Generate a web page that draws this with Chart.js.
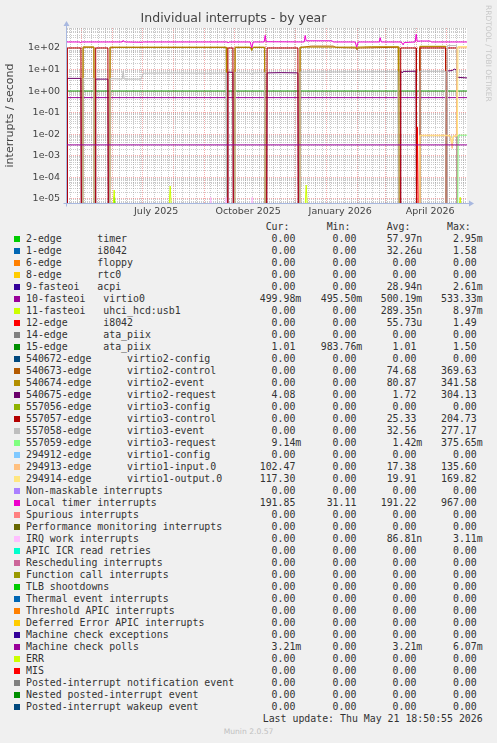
<!DOCTYPE html>
<html>
<head>
<meta charset="utf-8">
<title>Individual interrupts - by year</title>
<script src="https://cdn.jsdelivr.net/npm/chart.js@4.4.0/dist/chart.umd.min.js"></script>
<style>
  body { margin: 0; background: #f0f0f0; width: 497px; height: 743px; overflow: hidden; position: relative; font-family: 'DejaVu Sans', sans-serif; }
  #wrap { position: absolute; left: 0; top: 0; width: 497px; height: 220px; }
  #brand { position: absolute; left: 484px; top: 5px; writing-mode: vertical-rl; font-size: 7.5px; line-height: 8px; color: #c8c8c8; white-space: nowrap; }
  .row { position: absolute; left: 0; width: 497px; height: 12px; line-height: 12px; font-family: 'DejaVu Sans Mono', monospace; font-size: 9.9px; color: #333; white-space: pre; }
  .sw { position: absolute; left: 14px; top: 3px; width: 6px; height: 6px; }
  .lbl { position: absolute; left: 26px; top: 0; }
  .num { position: absolute; top: 0; }
  #munin { position: absolute; left: 0; width: 497px; top: 727px; text-align: center; font-size: 7.6px; color: #c0c0c0; }
</style>
</head>
<body>
<div id="wrap"><canvas id="chart" width="497" height="220"></canvas></div>
<div id="brand">RRDTOOL / TOBI OETIKER</div>
<div id="legend"></div>
<div id="munin">Munin 2.0.57</div>
<script>
// x = days relative to 2026-01-01, the graph covers 400 days up to 2026-05-21 18:50
const X_MIN = -259.2;
const X_MAX = 140.8;
const Y_MIN = 6.5e-6;
const Y_MAX = 845;
const FLOOR = Y_MIN / 2;   // zero values sit below the log axis

const monthStarts = [-245, -214, -184, -153, -122, -92, -61, -31, 0, 31, 59, 90, 120];
const weekLines = [-256, -249, -242, -235, -228, -221, -207, -200, -193, -186, -179, -172, -165, -158, -151,
  -144, -137, -130, -116, -109, -102, -95, -88, -81, -74, -67, -60, -53, -46, -39, -32, -25, -18, -11, -4,
  4, 11, 18, 25, 32, 39, 46, 53, 60, 67, 74, 81, 88, 95, 102, 109, 116, 123, 130, 137];
const xLabelDays = [-170, -78, 14, 104];
const xLabelTexts = ['July 2025', 'October 2025', 'January 2026', 'April 2026'];

const yDecades = [1e-5, 1e-4, 1e-3, 1e-2, 1e-1, 1, 10, 100];
const yDecadeLabels = ['1e-05', '1e-04', '1e-03', '1e-02', '1e-01', '1e+00', '1e+01', '1e+02'];

// series: [day, value]
const timer2 = [[-232.2, 0], [-231.2, 1.4e-5], [-230.2, 0], [-213, 0], [-212, 1.2e-5], [-211, 0]];
const uhci11 = [[-213.2, 0], [-212, 2.6e-5], [-210.8, 0], [-157.2, 0], [-156, 4e-5], [-154.8, 0],
  [-21.2, 0], [-20, 4.4e-5], [-18.8, 0], [132.8, 0], [134, 1.2e-5], [135.2, 0]];
const virtio0 = [[-259.2, 0.5], [140.8, 0.5]];
const i8042_12 = [[90.4, 0], [91.2, 0.022], [92, 0]];
const ataPiix15 = [[-259.2, 1.01], [140.8, 1.01]];
const virtio2Control = [
  [-243.5, 0], [-243.1, 108], [-232.3, 108], [-231.9, 0],
  [-216.5, 0], [-216.1, 105], [-99.9, 105], [-99.5, 0],
  [-91.5, 0], [-91.1, 105], [-75, 105], [-74.5, 85], [-73, 105], [-61.6, 105], [-61.2, 0],
  [-26.5, 0], [-26.1, 105], [-15, 122], [7, 122], [10, 105], [30, 100], [30.8, 82], [32, 100], [72.1, 108], [72.5, 0],
  [93.3, 0], [93.7, 115], [119.4, 115], [119.8, 0]];
const virtio2Event = [
  [-243.5, 0], [-243.1, 112], [-232.3, 112], [-231.9, 0],
  [-216.5, 0], [-216.1, 110], [-99.9, 110], [-99.5, 0],
  [-91.5, 0], [-91.1, 110], [-76, 110], [-74.5, 75], [-73, 110], [-61.6, 110], [-61.2, 0],
  [-26.5, 0], [-26.1, 110], [30, 110], [30.8, 95], [32, 110], [45, 115], [72.1, 115], [72.5, 0],
  [93.3, 0], [93.7, 120], [119.4, 120], [119.8, 0]];
const virtio2Request = [
  [-259.2, 0], [-258.8, 3.9], [-245.3, 3.9], [-244.9, 0],
  [-230.9, 0], [-230.5, 3.6], [-218.3, 3.6], [-217.9, 0],
  [-98.7, 0], [-98.3, 7.6], [-93.3, 7.4], [-92.9, 0],
  [-59.5, 0], [-59.1, 7.0], [-45, 7.2], [-28.3, 7.0], [-27.9, 0],
  [74.1, 0], [74.5, 8.4], [76, 7.0], [77, 8.2], [89.9, 8.4], [90.3, 0],
  [120.8, 0], [121.2, 8.6], [126, 9.0], [128, 10.5], [130.2, 9.8], [130.8, 4.4], [140.8, 4.1]];
const virtio3Control = [
  [-259.2, 0], [-258.8, 100], [-245.3, 100], [-244.9, 0],
  [-230.9, 0], [-230.5, 100], [-218.3, 100], [-217.9, 0],
  [-98.7, 0], [-98.3, 100], [-93.3, 100], [-92.9, 0],
  [-59.5, 0], [-59.1, 100], [-28.3, 100], [-27.9, 0],
  [74.1, 0], [74.5, 100], [89.9, 100], [90.3, 0],
  [93.3, 0], [93.7, 100], [119.4, 100], [119.8, 0],
  [120.8, 0], [121.2, 100], [130.4, 100], [130.8, 0]];
const virtio3Event = [
  [-243.5, 0], [-243.1, 3.8], [-232.3, 3.8], [-231.9, 0],
  [-216.5, 0], [-216.1, 3.8], [-204, 3.6], [-203, 8.5], [-202, 3.6], [-185, 3.6], [-183, 6.8],
  [-150, 7.0], [-120, 6.8], [-100.1, 7.0], [-99.7, 0],
  [-91.5, 0], [-91.1, 7.2], [-76, 7.0], [-74.5, 5.6], [-73, 7.0], [-61.6, 7.2], [-61.2, 0],
  [-26.5, 0], [-26.1, 7.6], [20, 7.8], [71.7, 8.0], [72.1, 0],
  [93.3, 0], [93.7, 8.3], [119.4, 8.3], [119.8, 0],
  [120.8, 0], [121.2, 130], [130.4, 130], [130.8, 0]];
const virtio3Request = [[131.5, 0], [132, 9.1e-3], [140.8, 9.1e-3]];
const virtio1Input = [[93.3, 0], [93.7, 8.5e-3], [121, 8.5e-3], [124, 8e-3], [126, 2.2e-3], [127, 8e-3],
  [130.2, 8e-3], [130.8, 102], [140.8, 102]];
const virtio1Output = [[93.3, 0], [93.7, 9e-3], [121, 9e-3], [124, 8.5e-3], [126, 4e-3], [127, 8.5e-3],
  [131.2, 8.5e-3], [131.8, 117], [140.8, 117]];
const localTimer = [[-259.2, 190], [-247, 190], [-246, 175], [-245, 190], [-204, 190], [-203, 225], [-202, 195],
  [-200, 190], [-184, 185], [-183, 190], [-99, 190], [-98, 170], [-97, 190], [-76, 190], [-74.5, 100],
  [-73, 190], [-62, 190], [-61, 385], [-60, 195], [-22, 190], [-21, 380], [-20, 215], [6, 215], [7, 190],
  [29, 190], [30.5, 110], [32, 190], [53, 190], [54, 300], [55, 190], [75, 190], [77, 140], [78, 180],
  [89, 190], [90, 430], [91, 205], [94, 210], [104, 210], [105, 190], [140.8, 190]];
const irqWork = [[-116.5, 0], [-115.5, 1.2e-5], [-114.5, 0], [-101.2, 0], [-100.2, 1.2e-5], [-99.2, 0],
  [-75, 0], [-74, 1.2e-5], [-73, 0]];
const mcPolls = [[-259.2, 3.21e-3], [140.8, 3.21e-3]];

// legend rows (munin colour order)
const legendNames = [
  '2-edge      timer', '1-edge      i8042', '6-edge      floppy', '8-edge      rtc0', '9-fasteoi   acpi',
  '10-fasteoi   virtio0', '11-fasteoi   uhci_hcd:usb1', '12-edge      i8042', '14-edge      ata_piix',
  '15-edge      ata_piix', '540672-edge      virtio2-config', '540673-edge      virtio2-control',
  '540674-edge      virtio2-event', '540675-edge      virtio2-request', '557056-edge      virtio3-config',
  '557057-edge      virtio3-control', '557058-edge      virtio3-event', '557059-edge      virtio3-request',
  '294912-edge      virtio1-config', '294913-edge      virtio1-input.0', '294914-edge      virtio1-output.0',
  'Non-maskable interrupts', 'Local timer interrupts', 'Spurious interrupts', 'Performance monitoring interrupts',
  'IRQ work interrupts', 'APIC ICR read retries', 'Rescheduling interrupts', 'Function call interrupts',
  'TLB shootdowns', 'Thermal event interrupts', 'Threshold APIC interrupts', 'Deferred Error APIC interrupts',
  'Machine check exceptions', 'Machine check polls', 'ERR', 'MIS', 'Posted-interrupt notification event',
  'Nested posted-interrupt event', 'Posted-interrupt wakeup event'];
const legendColors = ['#00CC00', '#0066B3', '#FF8000', '#FFCC00', '#330099', '#990099', '#CCFF00', '#FF0000',
  '#808080', '#008F00', '#00487D', '#B35A00', '#B38F00', '#6B006B', '#8FB300', '#B30000', '#BEBEBE', '#80FF80',
  '#80C9FF', '#FFC080', '#FFE680', '#AA80FF', '#EE00CC', '#FF8080', '#666600', '#FFBFFF', '#00FFCC', '#CC6699',
  '#999900', '#00CC00', '#0066B3', '#FF8000', '#FFCC00', '#330099', '#990099', '#CCFF00', '#FF0000', '#808080',
  '#008F00', '#00487D'];
const curVals = ['0.00', '0.00', '0.00', '0.00', '0.00', '499.98m', '0.00', '0.00', '0.00', '1.01', '0.00', '0.00',
  '0.00', '4.08', '0.00', '0.00', '0.00', '9.14m', '0.00', '102.47', '117.30', '0.00', '191.85', '0.00', '0.00',
  '0.00', '0.00', '0.00', '0.00', '0.00', '0.00', '0.00', '0.00', '0.00', '3.21m', '0.00', '0.00', '0.00', '0.00', '0.00'];
const minVals = ['0.00', '0.00', '0.00', '0.00', '0.00', '495.50m', '0.00', '0.00', '0.00', '983.76m', '0.00', '0.00',
  '0.00', '0.00', '0.00', '0.00', '0.00', '0.00', '0.00', '0.00', '0.00', '0.00', '31.11', '0.00', '0.00',
  '0.00', '0.00', '0.00', '0.00', '0.00', '0.00', '0.00', '0.00', '0.00', '0.00', '0.00', '0.00', '0.00', '0.00', '0.00'];
const avgVals = ['57.97n', '32.26u', '0.00', '0.00', '28.94n', '500.19m', '289.35n', '55.73u', '0.00', '1.01', '0.00',
  '74.68', '80.87', '1.72', '0.00', '25.33', '32.56', '1.42m', '0.00', '17.38', '19.91', '0.00', '191.22', '0.00',
  '0.00', '86.81n', '0.00', '0.00', '0.00', '0.00', '0.00', '0.00', '0.00', '0.00', '3.21m', '0.00', '0.00', '0.00', '0.00', '0.00'];
const maxVals = ['2.95m', '1.58', '0.00', '0.00', '2.61m', '533.33m', '8.97m', '1.49', '0.00', '1.50', '0.00',
  '369.63', '341.58', '304.13', '0.00', '204.73', '277.17', '375.65m', '0.00', '135.60', '169.82', '0.00', '967.00',
  '0.00', '0.00', '3.11m', '0.00', '0.00', '0.00', '0.00', '0.00', '0.00', '0.00', '0.00', '6.07m', '0.00', '0.00',
  '0.00', '0.00', '0.00'];

// which legend row each drawn series belongs to
const plotted = [
  [0, timer2], [6, uhci11], [5, virtio0], [7, i8042_12], [9, ataPiix15], [11, virtio2Control], [12, virtio2Event],
  [13, virtio2Request], [15, virtio3Control], [16, virtio3Event], [17, virtio3Request], [19, virtio1Input],
  [20, virtio1Output], [22, localTimer], [25, irqWork], [34, mcPolls]];

const datasets = plotted.map(([idx, pts]) => ({
  label: legendNames[idx],
  data: pts.map(([d, v]) => ({ x: d, y: v === 0 ? FLOOR : v })),
  borderColor: legendColors[idx],
  borderWidth: 1,
  pointRadius: 0,
  tension: 0,
  fill: false,
  clip: 0,
  order: -idx
}));

const xTickKinds = new Map();
weekLines.forEach(d => xTickKinds.set(d, 'minor'));
monthStarts.forEach(d => xTickKinds.set(d, 'major'));
xLabelDays.forEach(d => xTickKinds.set(d, 'label'));
const xTickValues = [...xTickKinds.keys()].filter(d => d > X_MIN && d < X_MAX).sort((a, b) => a - b);

const yTickValues = [];
yDecades.forEach(dec => {
  for (let m = 1; m <= 9; m++) {
    const v = dec * m;
    if (v >= Y_MIN && v <= Y_MAX) yTickValues.push(v);
  }
});
[2, 3, 4, 5, 6, 7, 8, 9].forEach(m => { if (1e-6 * m >= Y_MIN) yTickValues.unshift(1e-6 * m); });
yTickValues.sort((a, b) => a - b);

const isDecade = v => Math.abs(Math.log10(v) - Math.round(Math.log10(v))) < 1e-9;
const MAJOR = 'rgba(235, 90, 90, 0.5)';
const MINOR = 'rgba(140, 140, 140, 0.45)';

const plotBg = {
  id: 'plotBg',
  beforeDraw(chart) {
    const { ctx, chartArea: a } = chart;
    ctx.save();
    ctx.fillStyle = '#ffffff';
    ctx.fillRect(a.left, a.top, a.right - a.left, a.bottom - a.top);
    ctx.restore();
  }
};

const axisArrows = {
  id: 'axisArrows',
  afterDatasetsDraw(chart) {
    const { ctx, chartArea: a } = chart;
    const l = Math.round(a.left) - 0.5;
    const b = Math.round(a.bottom) + 0.5;
    ctx.save();
    ctx.strokeStyle = '#a8b8e0';
    ctx.fillStyle = '#a8b8e0';
    ctx.lineWidth = 1;
    ctx.beginPath();
    ctx.moveTo(l - 3, b); ctx.lineTo(a.right + 3, b);
    ctx.moveTo(l, b + 3); ctx.lineTo(l, a.top - 3);
    ctx.stroke();
    ctx.beginPath();
    ctx.moveTo(a.right + 7, b); ctx.lineTo(a.right + 2, b - 3); ctx.lineTo(a.right + 2, b + 3);
    ctx.fill();
    ctx.beginPath();
    ctx.moveTo(l, a.top - 7); ctx.lineTo(l - 3, a.top - 2); ctx.lineTo(l + 3, a.top - 2);
    ctx.fill();
    ctx.restore();
  }
};

new Chart(document.getElementById('chart').getContext('2d'), {
  type: 'line',
  data: { datasets },
  plugins: [plotBg, axisArrows],
  options: {
    responsive: false,
    animation: false,
    layout: { padding: { left: 0, right: 30, top: 0, bottom: 0 } },
    plugins: {
      legend: { display: false },
      tooltip: { enabled: false },
      title: {
        display: true,
        text: 'Individual interrupts - by year',
        color: '#444',
        font: { family: 'DejaVu Sans', size: 12.5, weight: 'normal' },
        padding: { top: 11, bottom: 2 }
      }
    },
    scales: {
      x: {
        type: 'linear',
        min: X_MIN,
        max: X_MAX,
        afterBuildTicks: s => { s.ticks = xTickValues.map(v => ({ value: v })); },
        afterFit: s => { s.height = 17; },
        ticks: {
          autoSkip: false,
          maxRotation: 0,
          padding: 3,
          color: '#444',
          font: { family: 'DejaVu Sans', size: 9.5 },
          callback: v => {
            const i = xLabelDays.indexOf(v);
            return i >= 0 ? xLabelTexts[i] : '';
          }
        },
        grid: {
          drawTicks: false,
          lineWidth: 1,
          color: c => {
            const k = xTickKinds.get(c.tick && c.tick.value);
            return k === 'major' ? MAJOR : k === 'minor' ? MINOR : 'rgba(0,0,0,0)';
          }
        },
        border: { display: false, dash: [1, 1] }
      },
      y: {
        type: 'logarithmic',
        min: Y_MIN,
        max: Y_MAX,
        afterBuildTicks: s => { s.ticks = yTickValues.map(v => ({ value: v })); },
        afterFit: s => { s.width = 67; },
        ticks: {
          autoSkip: false,
          padding: 7,
          color: '#444',
          font: { family: 'DejaVu Sans', size: 9.5 },
          callback: v => {
            if (!isDecade(v)) return '';
            const i = yDecades.findIndex(d => Math.abs(Math.log10(d) - Math.log10(v)) < 1e-9);
            return i >= 0 ? yDecadeLabels[i] : '';
          }
        },
        grid: {
          drawTicks: false,
          lineWidth: 1,
          color: c => (c.tick && isDecade(c.tick.value)) ? MAJOR : MINOR
        },
        border: { display: false, dash: [1, 1] },
        title: {
          display: true,
          text: 'interrupts / second',
          color: '#444',
          font: { family: 'DejaVu Sans', size: 11 },
          padding: { top: 4, bottom: 0 }
        }
      }
    }
  }
});

// legend table
const legend = document.getElementById('legend');
const colEdges = [301.3, 362.3, 422.3, 482.7];
const fmt = s => /[0-9]$/.test(s) ? s + ' ' : s;

function addRow(top, html) {
  const row = document.createElement('div');
  row.className = 'row';
  row.style.top = top + 'px';
  row.innerHTML = html;
  legend.appendChild(row);
  return row;
}
function numSpan(text, edge) {
  return `<span class="num" style="right:${(497 - edge).toFixed(1)}px">${text}</span>`;
}

addRow(221.3, ['Cur:  ', 'Min:  ', 'Avg:  ', 'Max:  '].map((t, i) => numSpan(t, colEdges[i])).join(''));
legendNames.forEach((name, i) => {
  addRow(233.3 + 12 * i,
    `<span class="sw" style="background:${legendColors[i]}"></span><span class="lbl">${name}</span>` +
    [curVals[i], minVals[i], avgVals[i], maxVals[i]].map((v, j) => numSpan(fmt(v), colEdges[j])).join(''));
});
addRow(713.3, numSpan('Last update: Thu May 21 18:50:55 2026', 482.7));
</script>
</body>
</html>
